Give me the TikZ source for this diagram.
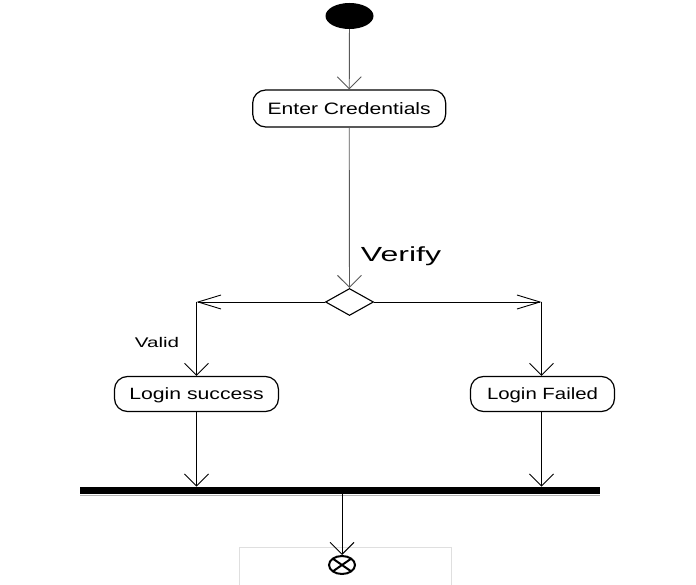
\documentclass[tikz,border=0pt]{standalone}
\usepackage{fontspec}
\usepackage{graphicx}
\setmainfont{Liberation Sans}
\usetikzlibrary{arrows.meta,shapes.geometric,calc}
\tikzset{
  actbox/.style={draw, line width=1.2pt, rounded corners=13pt, inner sep=0pt,
    text height=11.8pt, text depth=0pt, fill=white},
  vflow/.style={line width=0.9pt, -{Straight Barb[length=12pt,width=24pt,line width=0.9pt]}},
  hflow/.style={line width=0.9pt, -{Straight Barb[length=23pt,width=14pt,line width=0.9pt]}},
  lbl/.style={inner sep=0pt, anchor=base}
}
\newcommand{\sx}[3]{\scalebox{#1}[1]{\fontsize{#2}{#2}\selectfont #3}}
\begin{document}
\begin{tikzpicture}[x=1pt,y=-1pt]
\useasboundingbox (0,0) rectangle (696,585);
% start
\node[ellipse, fill=black, minimum width=48pt, minimum height=26pt, inner sep=0pt] (start) at (349.5,16) {};
% actions
\node[actbox, minimum width=193pt, minimum height=37pt] (enter) at (349.2,108.5) {\sx{1.28}{16.5}{Enter Credentials}};
\node[diamond, draw, line width=1.1pt, minimum width=48pt, minimum height=27pt, inner sep=0pt, aspect=1.78] (dec) at (349.5,302) {};
\node[lbl] (verify) at (401,262) {\sx{1.57}{20.4}{Verify}};
\coordinate (cL) at (196.5,302);
\coordinate (cR) at (541.5,302);
\node[lbl] (valid) at (157,347.3) {\sx{1.47}{14}{Valid}};
\node[actbox, minimum width=164pt, minimum height=35pt] (ok) at (196.5,394) {\sx{1.30}{16.3}{Login success}};
\node[actbox, minimum width=144pt, minimum height=35pt] (fail) at (542.5,394) {\sx{1.25}{16.3}{Login Failed}};
% bar
\node[fill=black, minimum width=520pt, minimum height=7.5pt, inner sep=0pt] (bar) at (340,490.5) {};
\draw[gray!60, line width=0.8pt] ($(bar.south west)+(0,0.8)$) -- ($(bar.south east)+(0,0.8)$);
% frame below
\draw[gray!25, line width=0.8pt] (239,590) -- (239,547) -- (451,547) -- (451,590);
% final
\node[ellipse, draw, line width=2pt, minimum width=26pt, minimum height=18pt, inner sep=0pt,
  path picture={\draw[line width=2pt] (path picture bounding box.north west) -- (path picture bounding box.south east)
  (path picture bounding box.north east) -- (path picture bounding box.south west);}] (final) at (342,565) {};
% connectors
\draw[vflow, gray!70!black] (start) -- (enter);
\draw[vflow, gray!70!black] (enter) -- (dec);
\draw[hflow] (dec.west) -- (cL);
\draw[vflow] (cL) -- (ok.north);
\draw[hflow] (dec.east) -- (cR);
\draw[vflow] (cR) -- (cR |- fail.north);
\draw[vflow] (ok.south) -- (ok.south |- bar.north);
\draw[vflow] (fail.south -| cR) -- (cR |- bar.north);
\draw[vflow] (bar.south -| final.north) -- (final.north);
\end{tikzpicture}
\end{document}
